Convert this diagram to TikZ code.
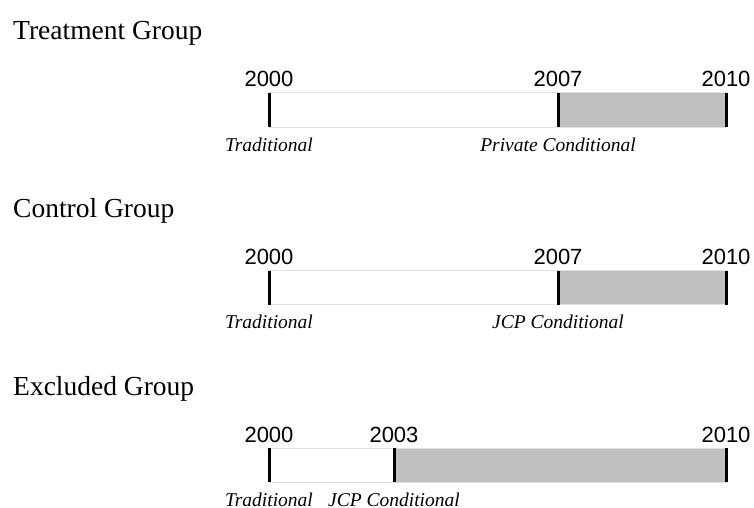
\documentclass[tikz,border=0pt]{standalone}
\usepackage{fontspec}
\setmainfont{Liberation Serif}
\newfontfamily\yearfont{Liberation Sans}
\tikzset{
  grptitle/.style={anchor=base west, inner sep=0pt, font=\fontsize{27.5}{30}\selectfont},
  yearlbl/.style={anchor=base, inner sep=0pt, font=\yearfont\fontsize{22}{24}\selectfont},
  phaselbl/.style={anchor=base, inner sep=0pt, font=\itshape\fontsize{19.5}{21}\selectfont},
  baredge/.style={draw=black!12, line width=1pt},
  barfill/.style={fill=black!25},
  tick/.style={line width=3pt, black}
}
\begin{document}
\begin{tikzpicture}[x=1pt,y=-1pt]
  \useasboundingbox (0,0) rectangle (754,508);
  \foreach \i/\grp/\mx/\my/\lab in {0/Treatment Group/558/2007/Private Conditional,
                                   1/Control Group/558/2007/JCP Conditional,
                                   2/Excluded Group/394/2003/JCP Conditional}{
    \pgfmathsetmacro\yy{\i*177.5}
    \node[grptitle] (title\i) at (13,40+\yy) {\grp};
    % bar
    \fill[white] (269,93+\yy) rectangle (\mx,127+\yy);
    \fill[barfill] (\mx,93+\yy) rectangle (726,127+\yy);
    \draw[baredge] (269,93+\yy) rectangle (726,127+\yy);
    \coordinate (s\i) at (269,93+\yy);
    \coordinate (m\i) at (\mx,93+\yy);
    \coordinate (e\i) at (726,93+\yy);
    \foreach \t in {s,m,e}{
      \draw[tick] (\t\i) -- ++(0,34);
    }
    % years
    \node[yearlbl] (ys\i) at (269,87+\yy) {2000};
    \node[yearlbl] (ym\i) at (\mx,87+\yy) {\my};
    \node[yearlbl] (ye\i) at (726,87+\yy) {2010};
    % phases
    \node[phaselbl] (trad\i) at (269,151+\yy) {Traditional};
    \node[phaselbl] (cond\i) at (\mx,151+\yy) {\lab};
  }
\end{tikzpicture}
\end{document}
